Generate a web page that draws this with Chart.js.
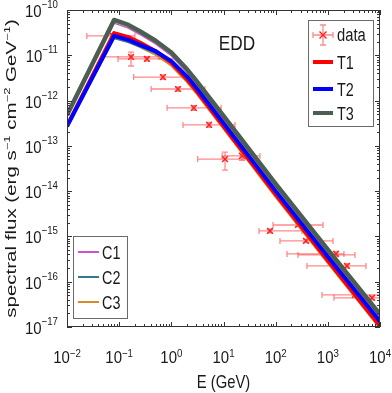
<!DOCTYPE html>
<html>
<head>
<meta charset="utf-8">
<script src="https://cdn.jsdelivr.net/npm/chart.js@4.4.0/dist/chart.umd.min.js"></script>
<style>
  html, body { margin: 0; padding: 0; background: #fff; }
</style>
</head>
<body>
<canvas id="chart" width="392" height="393"></canvas>
<script>
'use strict';

// model curves, energy grid in GeV
let modelE = [0.01, 0.08, 0.15, 0.25, 0.5, 1, 2, 3, 5, 10, 100, 1000, 10000];
let fluxT1 = [2.75e-13, 3.09e-11, 2.51e-11, 1.91e-11, 1.23e-11, 6.92e-12, 2.95e-12, 1.66e-12, 7.76e-13, 2.69e-13, 8.51e-15, 2.95e-16, 1.05e-17];
let fluxT2 = [2.69e-13, 2.69e-11, 2.19e-11, 1.70e-11, 1.23e-11, 7.41e-12, 3.39e-12, 1.91e-12, 8.91e-13, 3.16e-13, 1.00e-14, 3.55e-16, 1.32e-17];
let fluxT3 = [4.79e-13, 6.03e-11, 4.68e-11, 3.39e-11, 2.09e-11, 1.15e-11, 4.90e-12, 2.75e-12, 1.29e-12, 4.57e-13, 1.45e-14, 5.13e-16, 1.91e-17];
let fluxC1 = [4.37e-13, 5.13e-11, 3.98e-11, 2.88e-11, 1.78e-11, 9.77e-12, 4.17e-12, 2.34e-12, 1.10e-12, 3.89e-13, 1.23e-14, 4.37e-16, 1.62e-17];
let fluxC2 = [2.63e-13, 2.40e-11, 1.95e-11, 1.55e-11, 1.12e-11, 7.08e-12, 3.24e-12, 1.82e-12, 8.51e-13, 3.02e-13, 9.55e-15, 3.39e-16, 1.26e-17];
let fluxC3 = [2.57e-13, 2.40e-11, 1.95e-11, 1.51e-11, 1.02e-11, 5.89e-12, 2.57e-12, 1.45e-12, 6.76e-13, 2.40e-13, 7.41e-15, 2.57e-16, 9.33e-18];

// measured points with error ranges
let dataE   = [0.076, 0.169, 0.34, 0.69, 1.34, 2.7, 5.3, 10.7, 22.6, 78, 268, 381, 1432, 922, 2328, 3311, 7015];
let dataF   = [2.67e-11, 9.2e-12, 8.3e-12, 3.3e-12, 1.8e-12, 6.9e-13, 2.9e-13, 5.1e-14, 6.0e-14, 1.32e-15, 1.79e-15, 7.96e-16, 4.11e-16, 3.9e-16, 2.23e-16, 5.1e-17, 4.4e-17];
let dataElo = [0.024, 0.049, 0.095, 0.19, 0.41, 0.83, 1.67, 3.2, 9.4, 48, 89, 121, 165, 268, 398, 773, 1312];
let dataEhi = [0.20, 0.58, 1.3, 2.5, 4.4, 9.0, 16.6, 32, 50, 320, 807, 1256, 2037, 3311, 5383, 12000, 30000];
let dataFlo = [2.45e-11, 5.8e-12, 7.4e-12, 2.95e-12, 1.6e-12, 6.1e-13, 2.55e-13, 2.9e-14, 4.8e-14, 1.2e-15, 1.65e-15, 7.3e-16, 3.6e-16, 3.6e-16, 2.0e-16, 4.7e-17, 4.0e-17];
let dataFhi = [2.9e-11, 1.18e-11, 9.2e-12, 3.7e-12, 2.0e-12, 7.7e-13, 3.3e-13, 7.3e-14, 7.0e-14, 1.45e-15, 1.95e-15, 8.7e-16, 4.7e-16, 4.2e-16, 2.5e-16, 5.5e-17, 4.8e-17];

let xDecades = [-2, -1, 0, 1, 2, 3, 4];
let yDecades = [-17, -16, -15, -14, -13, -12, -11, -10];

const FONT = '"Liberation Sans", Arial, Helvetica, sans-serif';
const TXT = '#1a1a1a';
const colT1 = '#ff0000';
const colT2 = '#0000ff';
const colT3 = '#4b5f50';
const colC1 = '#c457cc';
const colC2 = '#2f7a8c';
const colC3 = '#d8892c';
const colData = '#ff2020';
const colErr = 'rgba(255,40,40,0.55)';

let canvasElem = document.getElementById('chart');

function pairs(xs, ys) {
  return xs.map((x, i) => ({ x: x, y: ys[i] }));
}

function sqText(ctx, text, x, y, size, k, align) {
  ctx.save();
  ctx.font = size + 'px ' + FONT;
  ctx.fillStyle = TXT;
  ctx.textBaseline = 'alphabetic';
  ctx.translate(x, y);
  ctx.scale(k, 1);
  let w = ctx.measureText(text).width;
  let x0 = 0;
  if (align === 'center') x0 = -w / 2;
  if (align === 'right') x0 = -w;
  ctx.fillText(text, x0, 0);
  ctx.restore();
}

function textW(ctx, text, size) {
  ctx.font = size + 'px ' + FONT;
  return ctx.measureText(text).width;
}

// 10^n labels
function powLabel(ctx, n, x, y, mode) {
  let k = 0.88;
  let exp = (n < 0 ? '\u2212' : '') + Math.abs(n);
  let w1 = textW(ctx, '10', 17) * k;
  let w2 = textW(ctx, exp, 11) * k;
  let x0;
  if (mode === 'x') {
    x0 = x - (w1 + w2) / 2;
    sqText(ctx, '10', x0, y + 36, 17, k, 'left');
    sqText(ctx, exp, x0 + w1, y + 30, 11, k, 'left');
  } else {
    x0 = x - 9 - w1 - w2;
    sqText(ctx, '10', x0, y + 7, 17, k, 'left');
    sqText(ctx, exp, x0 + w1, y - 2, 11, k, 'left');
  }
}

function drawCross(ctx, x, y, r) {
  ctx.beginPath();
  ctx.moveTo(x - r, y - r); ctx.lineTo(x + r, y + r);
  ctx.moveTo(x - r, y + r); ctx.lineTo(x + r, y - r);
  ctx.stroke();
}

const errorBars = {
  id: 'errorBars',
  beforeDatasetsDraw(chart) {
    let ctx = chart.ctx, xs = chart.scales.x, ys = chart.scales.y, a = chart.chartArea;
    ctx.save();
    ctx.beginPath();
    ctx.rect(a.left, a.top, a.right - a.left, a.bottom - a.top);
    ctx.clip();
    ctx.strokeStyle = colErr;
    ctx.lineWidth = 1.3;
    for (let i = 0; i < dataE.length; i++) {
      let px = xs.getPixelForValue(dataE[i]);
      let py = ys.getPixelForValue(dataF[i]);
      let x1 = xs.getPixelForValue(dataElo[i]);
      let x2 = xs.getPixelForValue(dataEhi[i]);
      let y1 = ys.getPixelForValue(dataFhi[i]);
      let y2 = ys.getPixelForValue(dataFlo[i]);
      ctx.beginPath();
      ctx.moveTo(x1, py); ctx.lineTo(x2, py);
      ctx.moveTo(x1, py - 3); ctx.lineTo(x1, py + 3);
      ctx.moveTo(x2, py - 3); ctx.lineTo(x2, py + 3);
      ctx.moveTo(px, y1); ctx.lineTo(px, y2);
      ctx.moveTo(px - 3, y1); ctx.lineTo(px + 3, y1);
      ctx.moveTo(px - 3, y2); ctx.lineTo(px + 3, y2);
      ctx.stroke();
    }
    ctx.restore();
  }
};

const frame = {
  id: 'frame',
  afterDraw(chart) {
    let ctx = chart.ctx, xs = chart.scales.x, ys = chart.scales.y, a = chart.chartArea;
    ctx.save();
    ctx.strokeStyle = '#333';
    ctx.lineWidth = 1;
    ctx.strokeRect(a.left + 0.5, a.top + 0.5, a.right - a.left - 1, a.bottom - a.top - 1);
    ctx.beginPath();
    xDecades.forEach(d => {
      for (let m = 1; m < 10; m++) {
        if (d === 4 && m > 1) break;
        let px = Math.round(xs.getPixelForValue(m * Math.pow(10, d))) + 0.5;
        let len = m === 1 ? 5 : 3;
        ctx.moveTo(px, a.bottom); ctx.lineTo(px, a.bottom - len);
        ctx.moveTo(px, a.top); ctx.lineTo(px, a.top + len);
      }
    });
    yDecades.forEach(d => {
      for (let m = 1; m < 10; m++) {
        if (d === -10 && m > 1) break;
        let py = Math.round(ys.getPixelForValue(m * Math.pow(10, d))) + 0.5;
        let len = m === 1 ? 5 : 3;
        ctx.moveTo(a.left, py); ctx.lineTo(a.left + len, py);
        ctx.moveTo(a.right, py); ctx.lineTo(a.right - len, py);
      }
    });
    ctx.stroke();

    xDecades.forEach(d => powLabel(ctx, d, xs.getPixelForValue(Math.pow(10, d)), a.bottom, 'x'));
    yDecades.forEach(d => powLabel(ctx, d, a.left, ys.getPixelForValue(Math.pow(10, d)), 'y'));

    // axis titles
    sqText(ctx, 'E (GeV)', (a.left + a.right) / 2, 388, 19, 0.78, 'center');

    let parts = [['spectral flux (erg s', 0], ['\u22121', 1], [' cm', 0], ['\u22122', 1], [' GeV', 0], ['\u22121', 1], [')', 0]];
    let big = 20.5, small = 13;
    let total = 0;
    parts.forEach(p => { total += textW(ctx, p[0], p[1] ? small : big); });
    ctx.save();
    ctx.translate(16, (a.top + a.bottom) / 2);
    ctx.rotate(-Math.PI / 2);
    ctx.scale(1, 0.68);
    ctx.fillStyle = TXT;
    let cx = -total / 2;
    parts.forEach(p => {
      let sz = p[1] ? small : big;
      ctx.font = sz + 'px ' + FONT;
      ctx.fillText(p[0], cx, p[1] ? -9 : 0);
      cx += ctx.measureText(p[0]).width;
    });
    ctx.restore();

    sqText(ctx, 'EDD', 237, 50, 20, 0.86, 'center');

    // legend with data / T1 / T2 / T3
    ctx.fillStyle = '#fff';
    ctx.fillRect(308, 20, 65, 106);
    ctx.strokeStyle = '#6a6a6a';
    ctx.strokeRect(308.5, 20.5, 65, 106);
    ctx.strokeStyle = colErr;
    ctx.lineWidth = 1.3;
    ctx.beginPath();
    ctx.moveTo(313, 35); ctx.lineTo(333, 35);
    ctx.moveTo(313, 32); ctx.lineTo(313, 38);
    ctx.moveTo(333, 32); ctx.lineTo(333, 38);
    ctx.moveTo(323, 25); ctx.lineTo(323, 45);
    ctx.moveTo(320, 25); ctx.lineTo(326, 25);
    ctx.moveTo(320, 45); ctx.lineTo(326, 45);
    ctx.stroke();
    ctx.strokeStyle = colData;
    ctx.lineWidth = 1.4;
    drawCross(ctx, 323, 35, 3.5);
    sqText(ctx, 'data', 337, 41, 18, 0.82, 'left');
    [[colT1, 'T1', 62], [colT2, 'T2', 89], [colT3, 'T3', 113]].forEach(e => {
      ctx.strokeStyle = e[0];
      ctx.lineWidth = 4;
      ctx.beginPath();
      ctx.moveTo(313, e[2]); ctx.lineTo(333, e[2]);
      ctx.stroke();
      sqText(ctx, e[1], 337, e[2] + 7, 18, 0.8, 'left');
    });

    // legend with C1 / C2 / C3
    ctx.fillStyle = '#fff';
    ctx.fillRect(73, 236, 54, 82);
    ctx.strokeStyle = '#6a6a6a';
    ctx.lineWidth = 1;
    ctx.strokeRect(73.5, 236.5, 54, 82);
    [[colC1, 'C1', 252], [colC2, 'C2', 277], [colC3, 'C3', 302]].forEach(e => {
      ctx.strokeStyle = e[0];
      ctx.lineWidth = 2;
      ctx.beginPath();
      ctx.moveTo(78, e[2]); ctx.lineTo(99, e[2]);
      ctx.stroke();
      sqText(ctx, e[1], 102, e[2] + 7, 18, 0.8, 'left');
    });
    ctx.restore();
  }
};

function renderChart() {
  const data = {
    datasets: [
      {
        label: 'data',
        data: pairs(dataE, dataF),
        showLine: false,
        pointStyle: 'crossRot',
        pointRadius: 4,
        borderColor: colData,
        borderWidth: 1.5,
        order: 9
      },
      { label: 'C3', data: pairs(modelE, fluxC3), borderColor: colC3, borderWidth: 2, order: 6 },
      { label: 'C2', data: pairs(modelE, fluxC2), borderColor: colC2, borderWidth: 2, order: 5 },
      { label: 'C1', data: pairs(modelE, fluxC1), borderColor: colC1, borderWidth: 1.5, order: 4 },
      { label: 'T1', data: pairs(modelE, fluxT1), borderColor: colT1, borderWidth: 4, order: 3 },
      { label: 'T2', data: pairs(modelE, fluxT2), borderColor: colT2, borderWidth: 4, order: 2 },
      { label: 'T3', data: pairs(modelE, fluxT3), borderColor: colT3, borderWidth: 4.5, order: 1 }
    ]
  };
  data.datasets.forEach(ds => {
    if (ds.label !== 'data') {
      ds.showLine = true;
      ds.pointRadius = 0;
      ds.fill = false;
      ds.tension = 0;
      ds.borderJoinStyle = 'round';
    }
  });
  let config = {
    type: 'scatter',
    data: data,
    options: {
      responsive: false,
      animation: false,
      layout: { padding: { top: 10, right: 12, left: 0, bottom: 0 } },
      plugins: { legend: { display: false }, tooltip: { enabled: false } },
      scales: {
        x: {
          type: 'logarithmic',
          min: 0.01,
          max: 10000,
          grid: { display: false },
          border: { display: false },
          ticks: { display: false },
          afterFit: s => { s.height = 66; }
        },
        y: {
          type: 'logarithmic',
          min: 1e-17,
          max: 1e-10,
          grid: { display: false },
          border: { display: false },
          ticks: { display: false },
          afterFit: s => { s.width = 67; }
        }
      }
    },
    plugins: [errorBars, frame]
  };
  let myChart = new Chart(canvasElem, config);
}

renderChart();
</script>
</body>
</html>
